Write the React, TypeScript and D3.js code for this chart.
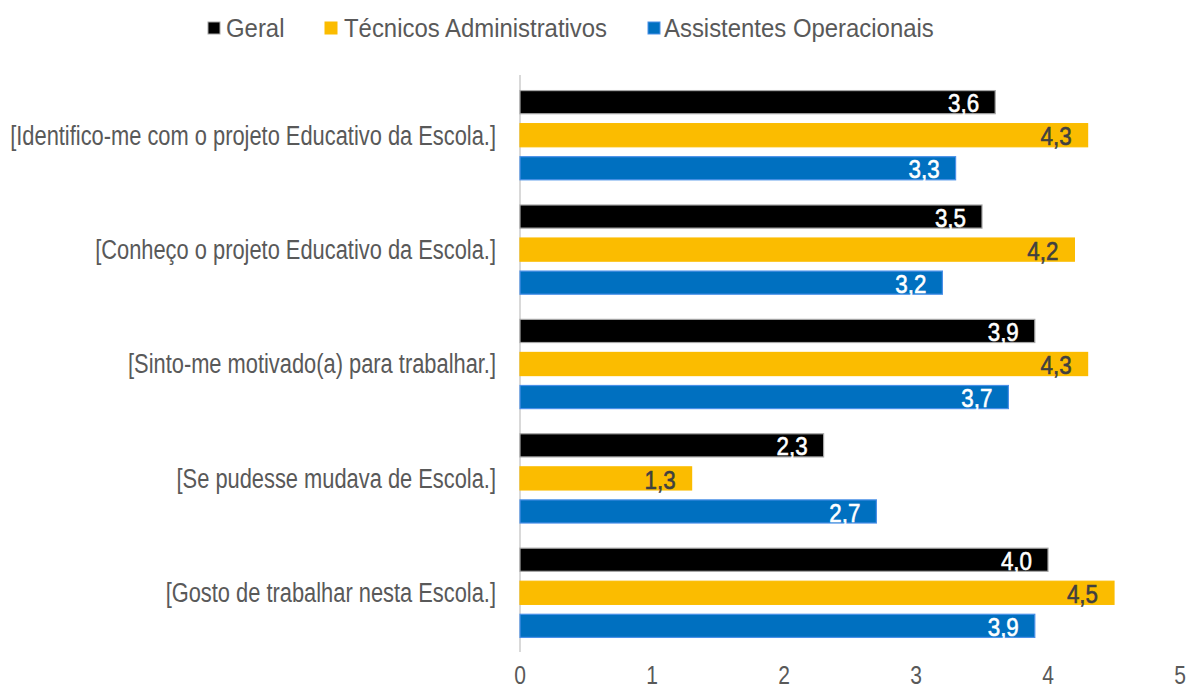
import React from "react";
import * as d3 from "d3";

const categories = [
  "[Identifico-me com o projeto Educativo da Escola.]",
  "[Conheço o projeto Educativo da Escola.]",
  "[Sinto-me motivado(a) para trabalhar.]",
  "[Se pudesse mudava de Escola.]",
  "[Gosto de trabalhar nesta Escola.]",
];
const seriesNames = ["Geral", "Técnicos Administrativos", "Assistentes Operacionais"];
const geral = [3.6, 3.5, 3.9, 2.3, 4.0];
const tecnicos = [4.3, 4.2, 4.3, 1.3, 4.5];
const assistentes = [3.3, 3.2, 3.7, 2.7, 3.9];
const xTicks = [0, 1, 2, 3, 4, 5];

const seriesValues = [geral, tecnicos, assistentes];
const fills = ["#000000", "#FBBC00", "#0070C0"];
const strokes = ["#a6a6a6", "#FBBC00", "#4A90E8"];
const labelColors = ["#ffffff", "#404040", "#ffffff"];

const FONT = "'Liberation Sans', Arial, sans-serif";

function SText(props: {
  x: number; y: number; sx: number; size: number; fill: string; anchor?: string; children: React.ReactNode; strokeW?: number;
}) {
  const { x, y, sx, size, fill, anchor = "start", children, strokeW = 0 } = props;
  return (
    <text
      transform={`translate(${x},${y}) scale(${sx},1)`}
      textAnchor={anchor as any}
      dominantBaseline="central"
      fontSize={size}
      fill={fill}
      stroke={strokeW ? fill : "none"}
      strokeWidth={strokeW}
    >
      {children}
    </text>
  );
}

export default function App() {
  const W = 1190, H = 690;
  const x = d3.scaleLinear().domain([0, 5]).range([520, 1180]);
  const y = d3.scaleBand<number>().domain(d3.range(categories.length)).range([78, 650]).paddingInner(0.22).paddingOuter(0.11);
  const yi = d3.scaleBand<number>().domain([0, 1, 2]).range([0, y.bandwidth()]).paddingInner(0.3);
  const fmt = (v: number) => v.toFixed(1).replace(".", ",");

  const legendSq = [208, 325, 648];
  const legendTx = [226, 344, 664];

  return (
    <svg width={W} height={H} style={{ position: "absolute", left: 0, top: 0, background: "#fff" }} fontFamily={FONT}>
      {/* legend */}
      {seriesNames.map((s, i) => (
        <g key={s}>
          <rect x={legendSq[i]} y={22} width={12} height={12} fill={fills[i]} stroke={strokes[i]} strokeWidth={1} />
          <SText x={legendTx[i]} y={28} sx={0.92} size={26} fill="#595959">{s}</SText>
        </g>
      ))}
      {/* axis line */}
      <line x1={x(0)} x2={x(0)} y1={75} y2={652} stroke="#d9d9d9" strokeWidth={2} />
      {/* category labels */}
      {categories.map((c, i) => (
        <SText key={c} x={496} y={(y(i) as number) + y.bandwidth() / 2} sx={0.81} size={27} anchor="end" fill="#595959">{c}</SText>
      ))}
      {/* bars */}
      {categories.map((c, i) => (
        <g key={"g" + i} transform={`translate(0,${y(i)})`}>
          {seriesValues.map((vals, j) => {
            const v = vals[i];
            const by = yi(j) as number;
            return (
              <g key={j}>
                <rect x={x(0)} y={by} width={x(v) - x(0)} height={yi.bandwidth()} fill={fills[j]} stroke={strokes[j]} strokeWidth={1.2} />
                <SText x={x(v) - 16} y={by + yi.bandwidth() / 2 + 1} sx={0.86} size={26} anchor="end" fill={labelColors[j]} strokeW={0.6}>{fmt(v)}</SText>
              </g>
            );
          })}
        </g>
      ))}
      {/* x ticks */}
      {xTicks.map((t) => (
        <SText key={t} x={Math.min(x(t), 1180)} y={675} sx={0.81} size={26} anchor="middle" fill="#595959">{t}</SText>
      ))}
    </svg>
  );
}
